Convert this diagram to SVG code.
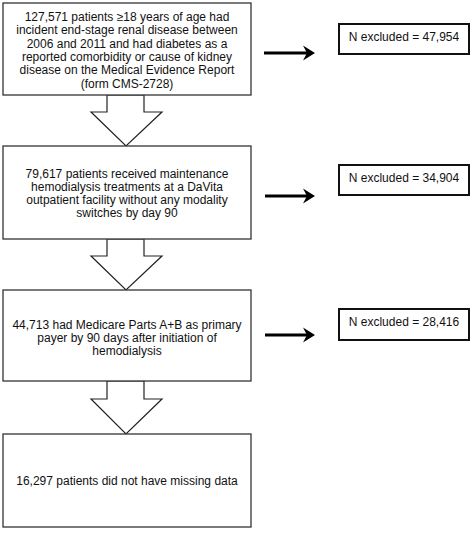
<svg xmlns="http://www.w3.org/2000/svg" width="472" height="540" viewBox="0 0 472 540">
<style>
.box{fill:#fff;stroke:#333;stroke-width:1.3}
.sbox{fill:#fff;stroke:#111;stroke-width:2}
.flow{fill:#fff;stroke:#222;stroke-width:1.2}
.t{font-family:"Liberation Sans",Arial,sans-serif;font-size:12px;fill:#111;text-anchor:middle}
.ar{stroke:#000;stroke-width:3;fill:none}
.ah{fill:#000}
</style>
<rect width="472" height="540" fill="#fff"/>
<g id="connectors">
<polygon class="flow" points="107,95 107,112 91,112 126,146 162,112 144,112 144,95"/>
<polygon class="flow" points="107,239 107,256 91,256 126,290 162,256 144,256 144,239"/>
<polygon class="flow" points="107,381 107,399 91,399 126,434 162,399 144,399 144,381"/>
<line class="ar" x1="264" y1="53" x2="309" y2="53"/>
<polygon class="ah" points="315,53 303,45.5 307,53 303,60.5"/>
<line class="ar" x1="265" y1="196" x2="309" y2="196"/>
<polygon class="ah" points="315,196 303,188.5 307,196 303,203.5"/>
<line class="ar" x1="265" y1="335" x2="309" y2="335"/>
<polygon class="ah" points="315,335 303,327.5 307,335 303,342.5"/>
</g>
<g id="node1">
<rect class="box" x="3" y="3" width="248" height="92"/>
<text class="t" x="127" y="21">127,571 patients ≥18 years of age had</text>
<text class="t" x="127" y="34.3">incident end-stage renal disease between</text>
<text class="t" x="127" y="47.6">2006 and 2011 and had diabetes as a</text>
<text class="t" x="127" y="60.9">reported comorbidity or cause of kidney</text>
<text class="t" x="127" y="74.2">disease on the Medical Evidence Report</text>
<text class="t" x="127" y="87.5">(form CMS-2728)</text>
</g>
<g id="node2">
<rect class="box" x="3" y="146" width="248" height="93"/>
<text class="t" x="127" y="177.5">79,617 patients received maintenance</text>
<text class="t" x="127" y="190.8">hemodialysis treatments at a DaVita</text>
<text class="t" x="127" y="204.1">outpatient facility without any modality</text>
<text class="t" x="127" y="217.4">switches by day 90</text>
</g>
<g id="node3">
<rect class="box" x="3" y="290" width="248" height="91"/>
<text class="t" x="127" y="328.5">44,713 had Medicare Parts A+B as primary</text>
<text class="t" x="127" y="341.8">payer by 90 days after initiation of</text>
<text class="t" x="127" y="355.1">hemodialysis</text>
</g>
<g id="node4">
<rect class="box" x="3" y="434" width="248" height="93"/>
<text class="t" x="127" y="484.5">16,297 patients did not have missing data</text>
</g>
<g id="excl1">
<rect class="sbox" x="339" y="24" width="130" height="30"/>
<text class="t" x="404" y="40.5">N excluded = 47,954</text>
</g>
<g id="excl2">
<rect class="sbox" x="339" y="165" width="130" height="30"/>
<text class="t" x="404" y="182">N excluded = 34,904</text>
</g>
<g id="excl3">
<rect class="sbox" x="339" y="309" width="130" height="31"/>
<text class="t" x="404" y="326">N excluded = 28,416</text>
</g>
</svg>
